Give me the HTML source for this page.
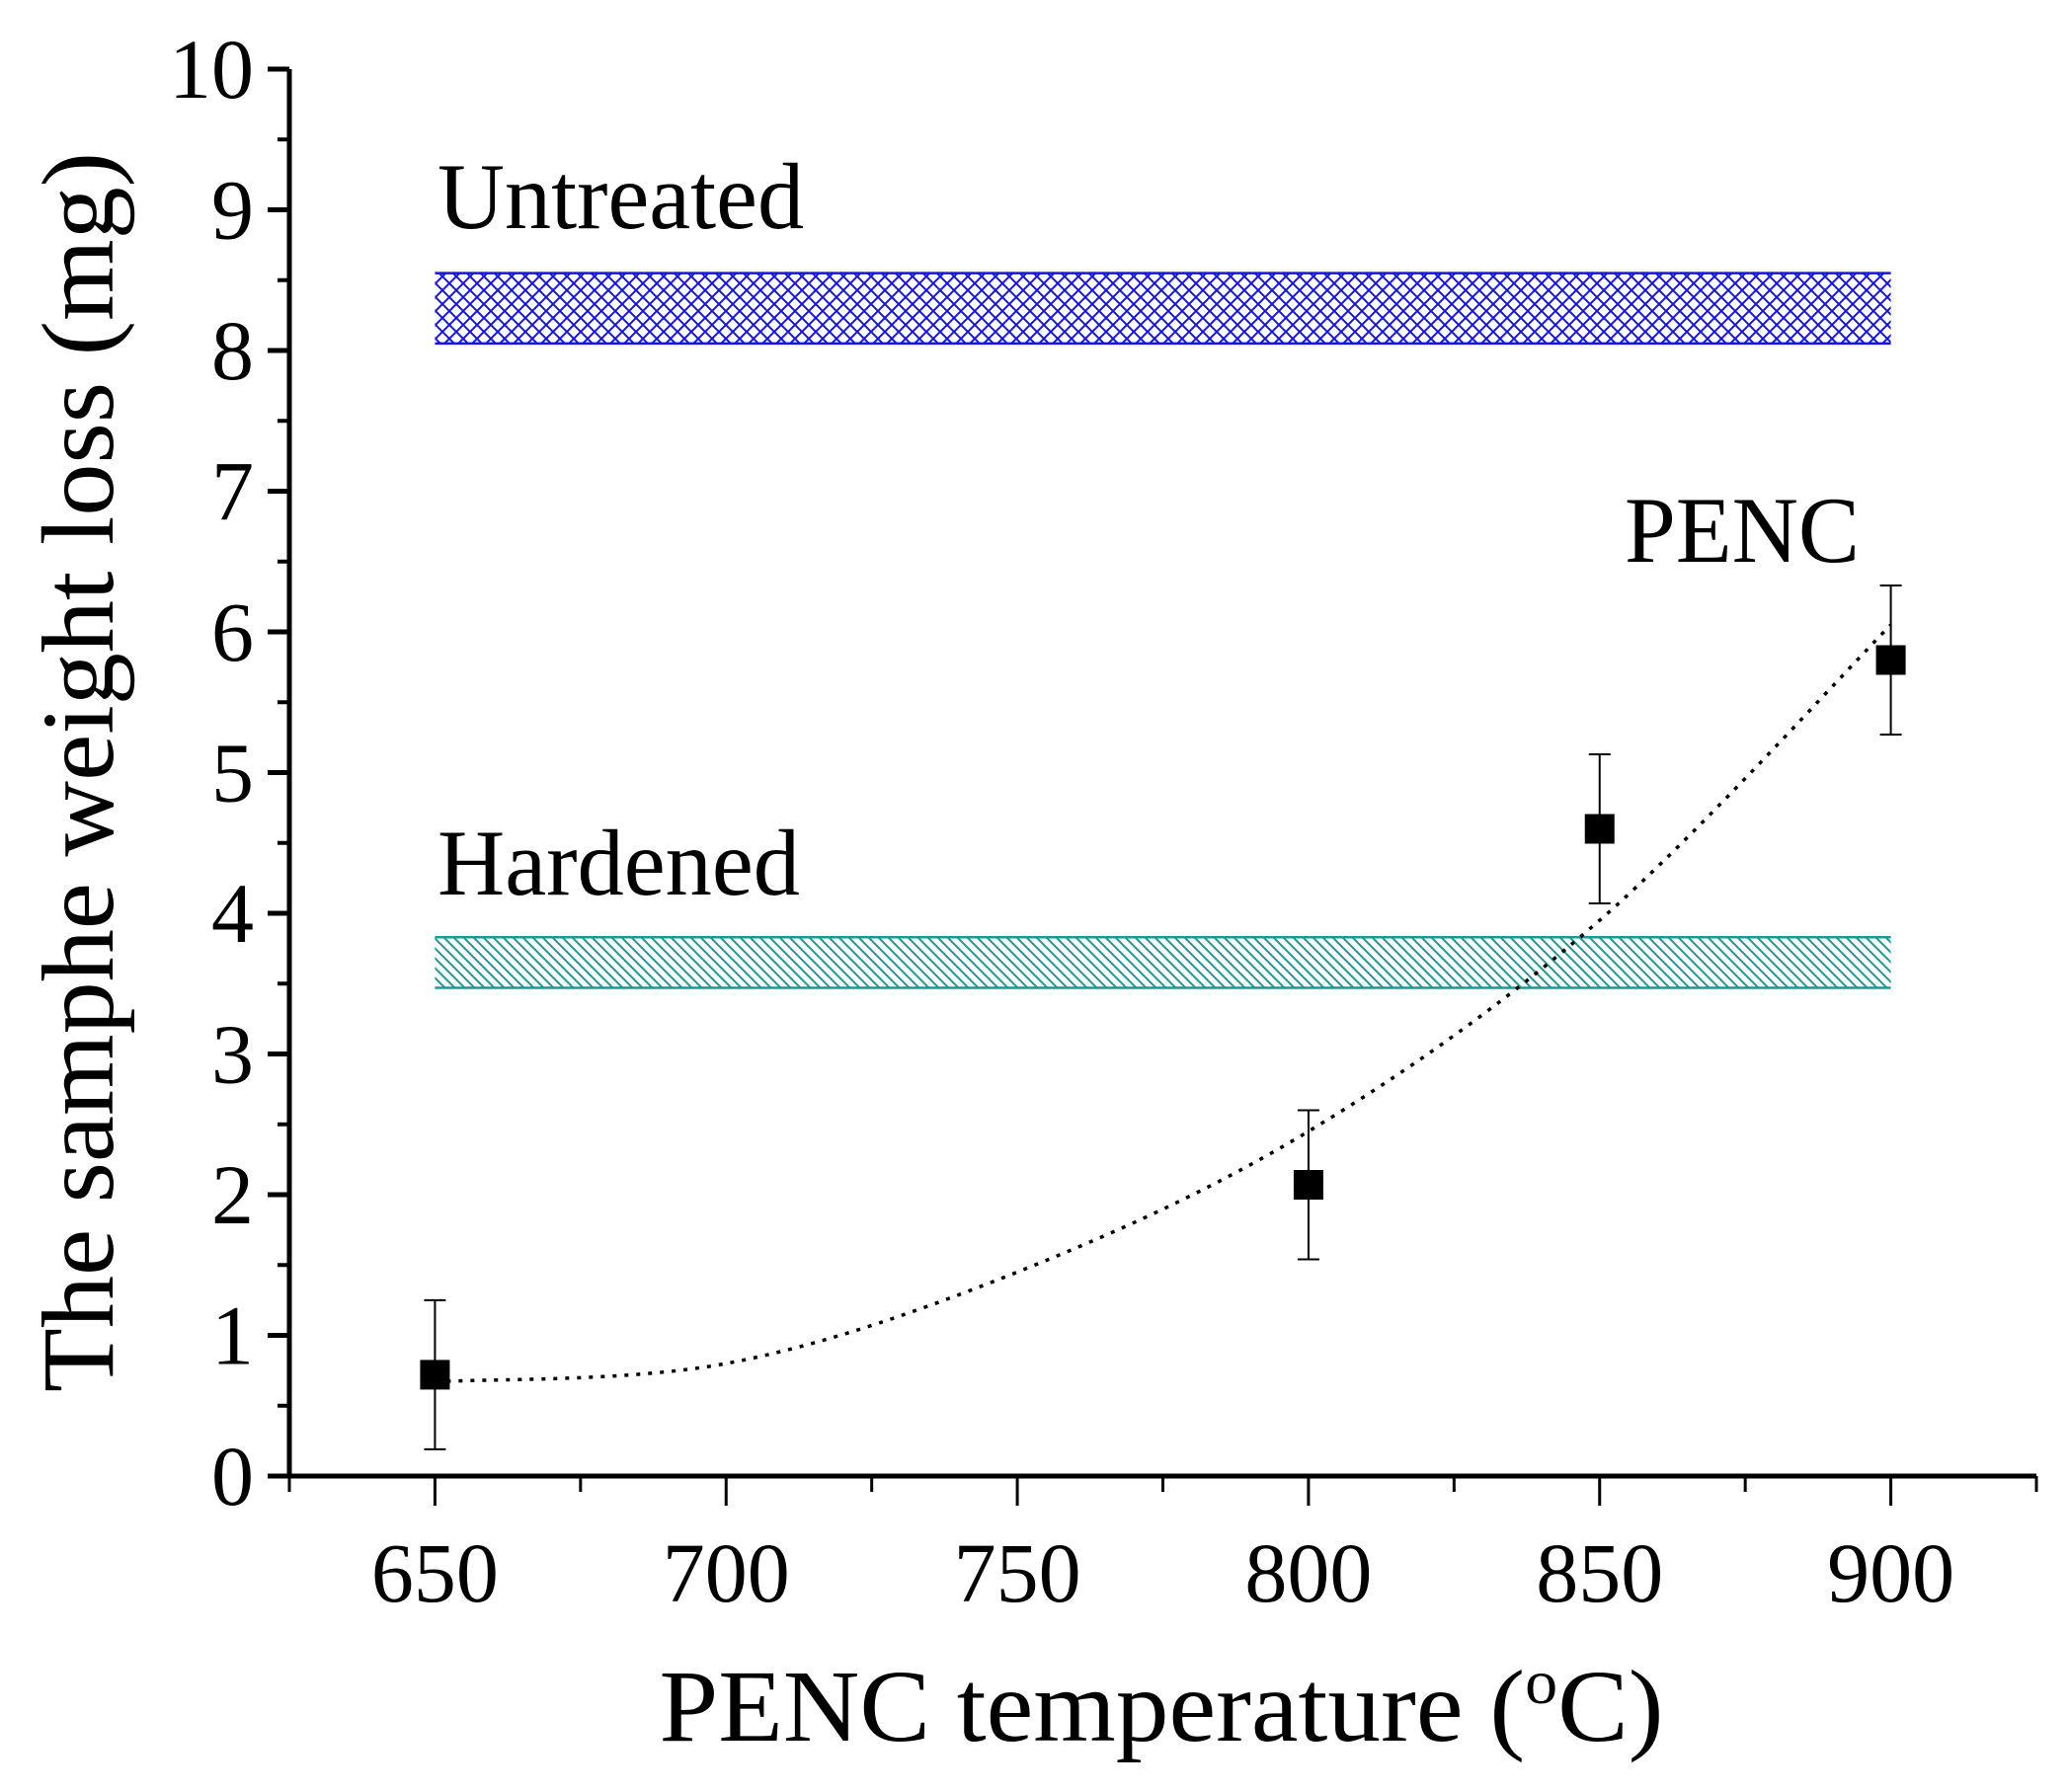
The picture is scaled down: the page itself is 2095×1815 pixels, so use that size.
<!DOCTYPE html>
<html><head><meta charset="utf-8"><style>html,body{margin:0;padding:0;background:#fff}svg{display:block}text{font-family:"Liberation Serif",serif;fill:#000}</style></head>
<body>
<svg id="chart" width="2095" height="1815" viewBox="0 0 2095 1815" xmlns="http://www.w3.org/2000/svg">
<defs>
<pattern id="cross" patternUnits="userSpaceOnUse" width="14" height="14"><path d="M0,0L14,14M14,0L0,14" stroke="#1515e0" stroke-width="2"/></pattern>
<pattern id="diag" patternUnits="userSpaceOnUse" width="10" height="10"><path d="M-5,-5L15,15M-5,5L5,15M5,-5L15,5" stroke="#1a9a9a" stroke-width="2"/></pattern>
</defs>
<g id="plot"></g>
</svg>
<script>
const xTicks=[650,700,750,800,850,900];
const yTicks=[0,1,2,3,4,5,6,7,8,9,10];
const temps=[650,800,850,900];
const losses=[0.72,2.07,4.6,5.8];
const errs=[0.53,0.53,0.53,0.53];
const fitX=[650,700,750,800,850,900];
const fitY=[0.67,0.8,1.45,2.45,3.95,6.05];
const bandNames=["Untreated","Hardened"];
const bandLow=[8.05,3.47];
const bandHigh=[8.55,3.83];
const bandStart=[650,650];
const bandEnd=[900,900];

const X0=293,X1=2062,Y0=1495,Y1=70;
const xs=v=>X0+(v-625)/(925-625)*(X1-X0);
const ys=v=>Y0-(v-0)/(10-0)*(Y0-Y1);
const NS="http://www.w3.org/2000/svg";
const g=document.getElementById('plot');
function mk(t,a,txt){const e=document.createElementNS(NS,t);for(const k in a)e.setAttribute(k,a[k]);if(txt!==undefined)e.textContent=txt;g.appendChild(e);return e;}

const fills=["url(#cross)","url(#diag)"],strokes=["#1515e0","#1a9a9a"];
bandNames.forEach((n,i)=>{
 const r=mk('rect',{x:xs(bandStart[i]),y:ys(bandHigh[i]),width:xs(bandEnd[i])-xs(bandStart[i]),height:ys(bandLow[i])-ys(bandHigh[i]),fill:fills[i]});
 
 
 [bandHigh[i],bandLow[i]].forEach(v=>{const l=mk('line',{x1:xs(bandStart[i]),x2:xs(bandEnd[i]),y1:ys(v),y2:ys(v),stroke:strokes[i],'stroke-width':2.5});
 
 });
});

const P=fitX.map((x,i)=>[xs(x),ys(fitY[i])]);
let d=`M${P[0][0]},${P[0][1]}`;
for(let i=0;i<P.length-1;i++){const p0=P[Math.max(0,i-1)],p1=P[i],p2=P[i+1],p3=P[Math.min(P.length-1,i+2)];
 d+=` C${p1[0]+(p2[0]-p0[0])/6},${p1[1]+(p2[1]-p0[1])/6} ${p2[0]-(p3[0]-p1[0])/6},${p2[1]-(p3[1]-p1[1])/6} ${p2[0]},${p2[1]}`;}
const fit=mk('path',{d:d,fill:'none',stroke:'#000','stroke-width':3.5,'stroke-dasharray':'4 8'});



temps.forEach((t,i)=>{
 const x=xs(t);
 const e=mk('path',{d:`M${x},${ys(losses[i]+errs[i])}V${ys(losses[i]-errs[i])}M${x-11},${ys(losses[i]+errs[i])}H${x+11}M${x-11},${ys(losses[i]-errs[i])}H${x+11}`,stroke:'#000','stroke-width':2,fill:'none'});
 
 
 const r=mk('rect',{x:x-15,y:ys(losses[i])-15,width:30,height:30,fill:'#000'});
 
 
});

const ax=mk('path',{d:`M${X0},${Y1}V${Y0}H${X1}`,stroke:'#000','stroke-width':5,fill:'none'});


yTicks.forEach(v=>{
 const t=mk('line',{x1:X0-22,x2:X0,y1:ys(v),y2:ys(v),stroke:'#000','stroke-width':5});
 
 
 if(v<10){const m=mk('line',{x1:X0-12,x2:X0,y1:ys(v+0.5),y2:ys(v+0.5),stroke:'#000','stroke-width':4});
 
 }
 const l=mk('text',{x:X0-36,y:ys(v)+29,'font-size':86,'text-anchor':'end'},String(v));
 
 
});
for(let v=625;v<=925;v+=25){
 const major=xTicks.includes(v);
 const t=mk('line',{x1:xs(v),x2:xs(v),y1:Y0,y2:Y0+(major?30:16),stroke:'#000','stroke-width':3});
 
 
}
xTicks.forEach(v=>{
 const l=mk('text',{x:xs(v),y:1622,'font-size':86,'text-anchor':'middle'},String(v));
 
 
});
const xt=mk('text',{x:1176,y:1763,'font-size':104,'text-anchor':'middle',textLength:1017,lengthAdjust:'spacingAndGlyphs'});
xt.innerHTML='PENC temperature (<tspan dy="-38" font-size="64">o</tspan><tspan dy="38">C)</tspan>';


const yt=mk('text',{x:0,y:0,'font-size':104,'text-anchor':'middle',textLength:1256,lengthAdjust:'spacingAndGlyphs',transform:'translate(114,782) rotate(-90)'},'The samphe weight loss (mg)');


const labs=[["Untreated",443,231,371,'label-untreated'],["Hardened",443,906,367,'label-hardened'],["PENC",1645,569,238,'label-penc']];
labs.forEach(a=>{const t=mk('text',{x:a[1],y:a[2],'font-size':95,textLength:a[3],lengthAdjust:'spacingAndGlyphs'},a[0]);
 
 });
</script>
</body></html>
